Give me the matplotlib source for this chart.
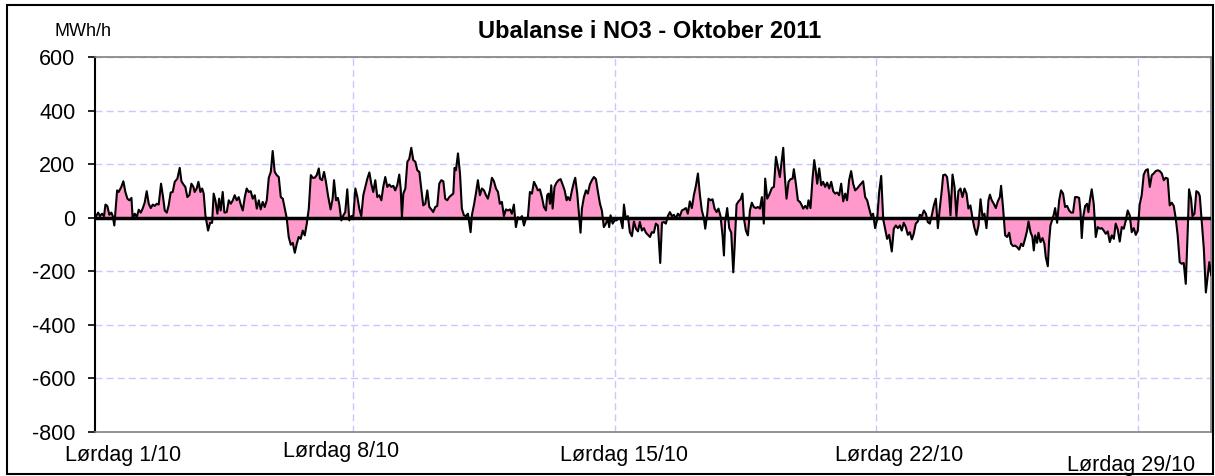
import numpy as np
import matplotlib
matplotlib.use('Agg')
import matplotlib.pyplot as plt
import matplotlib.transforms as mtransforms
from matplotlib.patches import Rectangle

plt.rcParams['font.family'] = ['Liberation Sans', 'DejaVu Sans']
plt.rcParams['axes.unicode_minus'] = False

# timer fra 1/10 kl 00, ubalanse i MWh/h (lest av figuren)
timer = [1.5, 2.5, 4.3, 5.5, 6.8, 8.1, 9.0, 10.2, 11.5, 12.8, 13.7, 14.7, 16.5, 17.5, 19.2, 20.5, 21.8, 23.1,
         24.4, 25.7, 26.5, 27.8, 29.1, 30.4, 31.7, 32.9, 34.2, 35.5, 36.8, 38.1, 39.4, 40.7, 41.9, 43.2, 44.7,
         46.0, 47.1, 48.4, 49.6, 50.9, 52.2, 53.5, 55.2, 56.7, 57.8, 59.1, 60.3, 61.6, 62.9, 64.2, 65.5, 66.3,
         67.6, 68.7, 70.0, 71.1, 72.1, 73.2, 74.9, 76.2, 77.5, 78.5, 79.6, 80.9, 82.0, 83.0, 84.3, 85.4, 86.9,
         88.2, 89.5, 90.8, 92.0, 93.3, 94.6, 95.9, 97.2, 98.5, 99.7, 101.0, 102.3, 103.6, 104.9, 106.2, 107.5,
         108.7, 110.0, 111.3, 112.6, 113.9, 115.2, 116.4, 117.7, 119.0, 120.3, 121.6, 122.9, 124.2, 125.4,
         126.7, 128.0, 129.3, 130.6, 131.9, 133.1, 134.4, 135.7, 137.0, 138.3, 139.6, 140.9, 142.1, 143.4,
         144.7, 146.0, 146.8,
         148.1, 149.4, 150.6, 151.9, 153.6, 154.9, 155.8, 157.1, 158.3, 159.2, 160.5, 161.8, 163.0, 164.3,
         165.6, 166.9, 168.2, 169.5, 170.8, 172.0, 173.3, 174.6, 175.9, 177.2, 178.5, 179.7, 181.0, 182.3,
         183.6, 184.9, 186.2, 187.4, 188.7, 190.0, 191.3, 192.6, 193.9, 195.1, 196.4, 197.7, 198.6, 199.4,
         200.3, 201.6, 202.9, 204.1, 205.4, 206.7, 208.0, 209.3, 210.6, 211.8, 213.1, 214.4, 215.7, 217.0,
         218.3, 219.5, 220.8, 222.1, 223.4, 224.7, 226.0, 227.2, 228.5, 229.8, 231.1, 232.4, 233.2, 234.1,
         235.4, 236.7, 237.9, 239.2, 240.5, 241.8, 243.5, 244.4, 245.7, 246.9, 248.2, 249.5, 250.8, 252.1,
         253.4, 254.6, 255.9, 257.2, 258.5, 259.8, 261.1, 262.3, 263.6, 264.9, 266.2, 267.5, 268.8, 270.0,
         271.3, 272.6, 273.9, 275.2, 276.5, 277.8, 279.0, 280.3, 281.6, 282.9, 284.2, 285.5, 286.7, 288.0,
         289.3, 290.6, 291.9,
         292.7, 293.6, 294.5, 295.3, 296.2, 297.4, 298.7, 300.0, 301.3, 302.6, 303.9, 305.2, 306.0, 307.3,
         308.6, 309.9, 310.7, 312.0, 313.3, 314.1, 315.0, 316.3, 317.6, 318.8, 320.1, 321.4, 322.7, 324.0,
         325.3, 326.6, 327.8, 329.1, 330.4, 331.7, 332.5, 333.4, 334.7, 336.0, 337.3, 338.5, 339.8, 341.1,
         342.0, 343.2, 344.5, 345.8, 347.1, 348.4, 349.7, 351.0, 352.2, 353.5, 354.8, 356.1, 357.4, 358.7,
         359.9, 361.2, 362.5, 363.8, 365.3, 366.4, 367.6, 368.9, 370.2, 371.5, 372.8, 374.1, 375.3, 376.6,
         377.9, 379.2, 380.5, 381.8, 383.0, 384.3, 385.6, 386.9, 388.2, 389.5, 390.8, 392.0, 393.3, 394.2,
         395.5, 396.3, 397.6, 398.9, 400.2, 401.5, 402.7, 404.0, 405.3, 406.2, 407.0, 408.3, 409.6, 410.9,
         412.2, 413.0, 414.3, 415.6, 416.9, 418.1, 419.0, 420.3, 421.6, 422.9, 424.1, 425.4, 426.7, 428.0,
         429.3, 430.6, 431.8, 432.7, 434.0, 435.3, 437.0,
         438.3, 439.6, 440.8, 442.1, 443.0, 444.3, 445.1, 446.4, 447.7, 449.0, 450.3, 451.1, 452.4, 453.7,
         455.0, 456.2, 457.1, 458.4, 459.7, 460.5, 461.8, 463.1, 464.2, 465.2, 466.1, 467.4, 468.7, 469.9,
         471.2, 472.5, 473.8, 475.1, 476.4, 477.6, 478.9, 480.2, 481.5, 482.8, 484.1, 485.3, 486.6, 487.9,
         489.2, 490.5, 491.8, 493.1, 494.3, 495.6, 496.9, 498.2, 499.5, 500.8, 502.0, 503.3, 504.6, 505.9,
         507.2, 508.5, 509.7, 511.0, 512.3, 513.2, 514.0, 515.3, 516.6, 517.9, 519.2, 520.4, 521.7, 523.0,
         524.3, 525.6, 526.9, 528.1, 529.4, 530.7, 532.0, 533.3, 534.6, 535.9, 537.1, 538.4, 539.7, 541.0,
         542.3, 543.6, 544.8, 546.1, 547.0, 548.3, 549.5, 550.8, 551.7, 553.0, 554.3, 555.5, 556.8, 558.1,
         559.4, 560.7, 562.0, 563.2, 564.5, 565.8, 567.1, 568.4, 569.7, 571.0, 572.2, 573.5, 574.8, 576.1,
         577.0, 578.2, 579.5, 580.8, 582.1,
         583.4, 584.2, 585.5, 586.8, 588.1, 589.4, 590.6, 591.9, 593.2, 594.5, 595.8, 597.1, 598.3, 599.6,
         600.9, 601.8, 603.1, 604.3, 605.2, 606.1, 607.3, 608.2, 609.5, 610.8, 612.0, 612.9, 614.2, 615.0,
         615.9, 617.2, 618.0, 618.9, 620.2, 621.5, 622.7, 624.0, 625.3, 626.6, 627.9, 629.2, 630.4, 631.7,
         633.0, 634.3, 635.2, 636.0, 636.9, 638.2, 639.4, 640.3, 641.1, 642.4, 643.7, 645.0, 646.3, 647.6,
         648.9, 650.1, 651.4, 652.7, 654.0, 655.3, 656.6, 657.8, 659.1, 660.4, 661.7, 663.0, 664.3, 665.5,
         666.8, 668.1, 669.4, 670.7, 672.0, 673.2, 674.5, 675.8, 677.1, 678.4, 679.7, 681.0, 682.2, 683.5,
         684.8, 686.1, 687.4, 688.7, 689.9, 691.2, 692.5, 693.8, 695.1, 696.4, 697.6, 698.9, 700.2, 701.5,
         702.8, 704.1, 704.9, 706.2, 707.1, 708.4, 709.6, 710.9, 711.8, 713.1, 714.4, 715.7, 717.0, 717.9,
         719.2, 720.5, 721.3]

ubalanse = [5, 0, 19, 6, 15, 6, 49, 44, 11, 19, 6, -29, 102, 96, 115, 136, 96, 71,
            65, 74, -4, 15, 2, 30, 19, 34, 56, 99, 52, 36, 49, 44, 52, 49, 127,
            77, 27, 19, 46, 94, 96, 134, 146, 186, 136, 124, 115, 77, 84, 127, 115, 96,
            109, 134, 96, 109, 90, 9, -48, -19, -19, 90, 65, 15, 71, 27, 96, 19, 21,
            65, 52, 65, 84, 65, 77, 49, 27, 77, 109, 96, 99, 71, 84, 34, 65,
            31, 59, 40, 65, 149, 171, 249, 171, 159, 152, 77, 71, 34, -1,
            -72, -101, -94, -131, -97, -72, -79, -48, -66, -22, 34, 159, 149, 149,
            159, 184, 146,
            140, 171, 134, 84, 31, 71, 140, 65, 74, 49, -10, 9, 21, 106,
            -10, 6, 6, 109, 77, 34, 6, 84, 115, 146, 169, 127, 96, 140,
            77, 84, 65, 115, 152, 115, 124, 115, 119, 102, 121, 161, 109, 2,
            90, 109, 209, 219, 261, 215, 209, 177, 171, 109, 46, 52, 102, 40,
            31, 21, 40, 44, 127, 140, 136, 71, 65, 77, 84, 90, 186, 177,
            240, 165, 34, 9, 6, 15, -54, 11, 49, 90, 140, 84, 109, 102,
            84, 71, 102, 149, 136, 109, 96, 52, 59, 6, 31, 27, 31, 15,
            49, -35, 2, -4, 6, -29, -4, 2, 96, 90, 134, 119, 102, 106,
            77, 40, 27,
            84, 90, 52, 121, 34, 115, 131, 140, 144, 124, 102, 65, 77, 65,
            102, 134, 149, 90, 2, -56, 34, 77, 102, 90, 124, 140, 152, 144,
            96, 52, 27, -35, -22, -4, -35, 9, -22, -10, -10, -1, -4, -39,
            49, -6, 6, -54, -69, -14, -41, -51, -16, -48, -39, -56, -64, -72,
            -54, -56, -22, -29, -169, -19, -16, -22, 6, 21, 6, 11, -4, 15,
            6, 27, 31, 36, 15, 61, 36, 84, 119, 165, 84, 27, -1, -41,
            15, 71, 65, 69, 34, 21, 34, 6, -66, -141, -16, 36, -39, -56,
            -204, -116, 49, 61, 69, 90, -1, -48, -66, 27, 56, 40, 36, 40,
            34, 77, -22, 146, 71, 86, 111,
            115, 227, 190, 152, 196, 261, 171, 71, 134, 144, 146, 181, 127, 65,
            59, 46, 34, 44, 34, 65, 36, 146, 215, 174, 127, 184, 121, 134,
            115, 131, 109, 134, 99, 90, 94, 84, 127, 61, 90, 65, 140, 174,
            127, 102, 109, 119, 127, 136, 77, 65, 34, 6, 15, -39, -6, 96,
            156, -6, -41, -79, -64, -97, -126, -41, -29, -39, -29, -48, -19, -35,
            -64, -54, -81, -60, -22, -14, 11, 6, 27, 15, -16, -22, 9, 46,
            71, -39, 34, 102, 159, 161, 152, 84, 9, 161, 115, 6, 99, 109,
            77, 109, 90, 34, 46, -1, -39, -64, -29, 69, 6, 15, -39, 65,
            86, 65, 52, 36, 61,
            77, 119, 34, -66, -72, -56, -97, -106, -104, -110, -119, -97, -106, -79,
            -48, -14, -54, -72, -122, -66, -94, -56, -91, -76, -97, -147, -181, -91,
            -29, -4, 11, 36, -19, 65, 102, 90, 40, 44, 27, 19, 19, 77,
            77, 74, 21, -76, 2, 44, 52, 21, 61, 106, 52, -72, -35, -41,
            -39, -48, -60, -51, -91, -66, -79, -22, -44, -89, -35, -41, -10, 27,
            9, -54, -39, -64, -48, 49, 84, 161, 177, 181, 115, 159, 165, 174,
            177, 174, 165, 140, 149, 146, 46, 56, 44, -4, -66, -166, -172, -169,
            -247, -41, 106, 71, 6, 15, 99, 94, 81, -16, -116, -279, -210, -166,
            -216, -191, -222]

y_ticks = [-800, -600, -400, -200, 0, 200, 400, 600]
uke_grenser = [168, 336, 504, 672]
dag_tekster = ['Lørdag 1/10', 'Lørdag 8/10', 'Lørdag 15/10', 'Lørdag 22/10', 'Lørdag 29/10']
tekst_x = [20.3, 160.3, 342.0, 519.0, 667.5]
tekst_y = [-0.062, -0.052, -0.062, -0.062, -0.090]

t = np.array(timer)
u = np.array(ubalanse)

fig = plt.figure(figsize=(12.15, 4.76), dpi=100)
ax = fig.add_axes([0.0782, 0.0924, 0.9185, 0.7879])

ax.fill_between(t, u, 0, color='#ff99cc', linewidth=0, zorder=2)
ax.plot(t, u, color='black', linewidth=1.5, zorder=4)
ax.axhline(0, color='black', linewidth=2.5, zorder=5)

ax.set_xlim(2.3, 719)
ax.set_ylim(-800, 600)
ax.set_yticks(y_ticks)
ax.tick_params(axis='y', labelsize=15.5, length=5, width=1.2, direction='out', pad=9)
ax.set_xticks([])

for v in y_ticks[1:]:
    ax.axhline(v, color='#c8c8ff', linewidth=1, linestyle=(0, (5, 3)), zorder=1)
for g in uke_grenser:
    ax.axvline(g, color='#c8c8ff', linewidth=1, linestyle=(0, (5, 3)), zorder=1)

for s in ['top', 'right', 'bottom']:
    ax.spines[s].set_color('#808080')
    ax.spines[s].set_linewidth(1.2)
ax.spines['left'].set_color('black')
ax.spines['left'].set_linewidth(1.5)

trans = mtransforms.blended_transform_factory(ax.transData, ax.transAxes)
for tx, ty, lab in zip(tekst_x, tekst_y, dag_tekster):
    ax.text(tx, ty, lab, transform=trans, ha='center', va='center', fontsize=15.5, clip_on=False)

fig.text(0.0683, 0.933, 'MWh/h', fontsize=13, ha='center', va='center')
fig.text(0.535, 0.933, 'Ubalanse i NO3 - Oktober 2011', fontsize=17, fontweight='bold',
         ha='center', va='center')

fig.patches.append(Rectangle((0.0058, 0.005), 0.9926, 0.984, transform=fig.transFigure,
                             fill=False, edgecolor='black', linewidth=1.5))

fig.savefig('out.png', dpi=100)
